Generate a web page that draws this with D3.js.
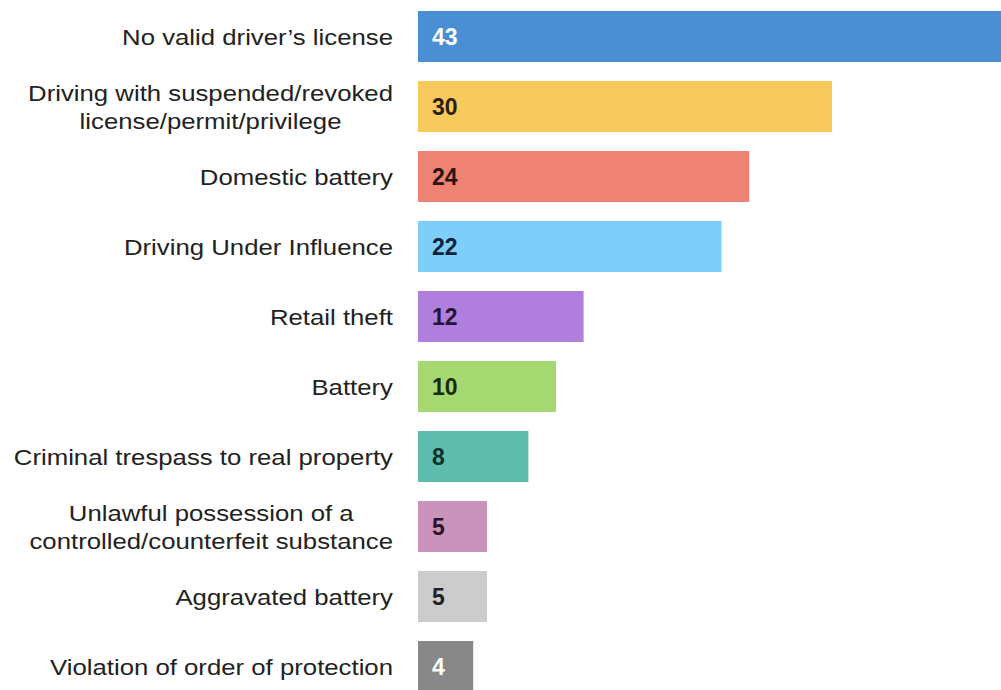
<!DOCTYPE html>
<html>
<head>
<meta charset="utf-8">
<script src="https://cdn.jsdelivr.net/npm/d3@7"></script>
<style>
  body { margin: 0; background: #fff; overflow: hidden; }
  svg { display: block; font-family: "Liberation Sans", Arial, sans-serif; }
</style>
</head>
<body>
<div id="chart"></div>
<script>
// offenses, most frequent first
var categories = [
  ["No valid driver\u2019s license"],
  ["Driving with suspended/revoked", "license/permit/privilege"],
  ["Domestic battery"],
  ["Driving Under Influence"],
  ["Retail theft"],
  ["Battery"],
  ["Criminal trespass to real property"],
  ["Unlawful possession of a", "controlled/counterfeit substance"],
  ["Aggravated battery"],
  ["Violation of order of protection"]
];
var counts = [43, 30, 24, 22, 12, 10, 8, 5, 5, 4];
var barColors = ["#4a8ed3", "#f8c95c", "#ee8373", "#7dcffa", "#b07fde",
                 "#a6d872", "#5fbbab", "#c993bc", "#cccccc", "#888888"];
var valueColors = ["#ffffff", "#2a1f10", "#2a1414", "#10213a", "#241436",
                   "#1a2a10", "#10302a", "#2a1428", "#222222", "#ffffff"];

var width = 1001;
var height = 690;

var svg = d3.select("#chart").append("svg")
  .attr("width", width)
  .attr("height", height);

var idx = d3.range(counts.length);

var y = d3.scaleBand()
  .domain(idx)
  .range([-8, 711])
  .padding(19 / 70);

var x = d3.scaleLinear()
  .domain([0, 30])
  .range([418, 832]);

// bars
svg.selectAll(".bar")
  .data(idx)
  .enter().append("rect")
  .attr("class", "bar")
  .attr("x", x(0))
  .attr("y", function(i) { return y(i); })
  .attr("width", function(i) { return x(counts[i]) - x(0); })
  .attr("height", y.bandwidth())
  .attr("fill", function(i) { return barColors[i]; });

// numbers inside the bars
svg.selectAll(".value")
  .data(idx)
  .enter().append("text")
  .attr("class", "value")
  .attr("x", x(0) + 14)
  .attr("y", function(i) { return y(i) + y.bandwidth() / 2; })
  .attr("dy", "0.36em")
  .style("font-size", "23px")
  .style("font-weight", "bold")
  .attr("fill", function(i) { return valueColors[i]; })
  .text(function(i) { return counts[i]; });

// category labels, right aligned against the bars
var labels = svg.selectAll(".label")
  .data(idx)
  .enter().append("text")
  .attr("class", "label")
  .attr("text-anchor", "end")
  .attr("transform", function(i) {
    return "translate(393," + (y(i) + y.bandwidth() / 2) + ") scale(1.12,1)";
  })
  .style("font-size", "23px")
  .attr("fill", "#222");

labels.each(function(i) {
  var lines = categories[i];
  var lineH = 28;
  var t = d3.select(this);
  var spans = lines.map(function(line, k) {
    return t.append("tspan")
      .attr("x", 0)
      .attr("y", (k - (lines.length - 1) / 2) * lineH)
      .attr("dy", "0.36em")
      .text(line);
  });
  // wrapped labels are centred on each other
  if (lines.length > 1) {
    var w = d3.max(spans, function(s) { return s.node().getComputedTextLength(); });
    t.attr("text-anchor", "middle");
    spans.forEach(function(s) { s.attr("x", -w / 2); });
  }
});
</script>
</body>
</html>
